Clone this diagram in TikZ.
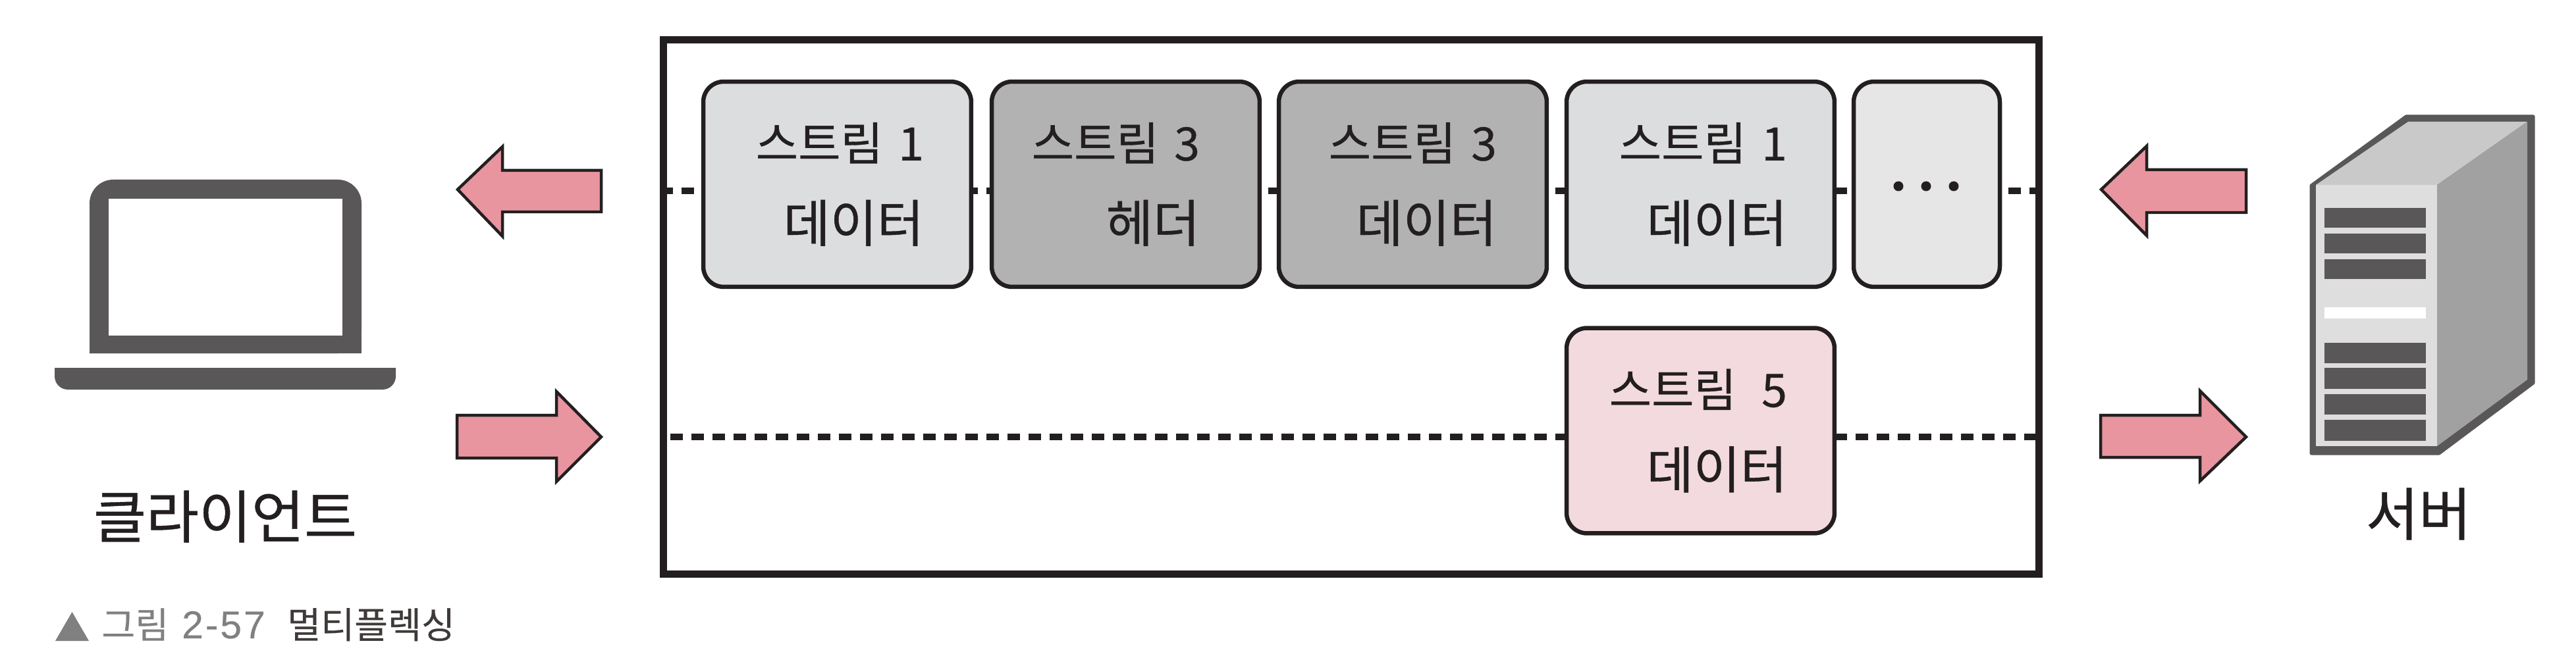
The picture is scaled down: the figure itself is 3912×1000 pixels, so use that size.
\documentclass[tikz,border=0pt]{standalone}
\usepackage{fontspec}
\setmainfont{Noto Sans CJK KR}
\newfontfamily\handfont[FakeBold=0.5]{Noto Sans CJK KR}
\newfontfamily\capfont[FakeBold=0.25]{Noto Sans CJK KR}
\newfontfamily\capdigits[LetterSpace=5,FakeBold=0.25]{Liberation Sans}
\definecolor{ink}{HTML}{231F20}
\definecolor{devgray}{HTML}{595757}
\definecolor{arrowpink}{HTML}{E8959F}
\definecolor{lightbox}{HTML}{DCDDDE}
\definecolor{midbox}{HTML}{B2B2B2}
\definecolor{paleb}{HTML}{E6E6E6}
\definecolor{pinkbox}{HTML}{F3DADE}
\definecolor{capgray}{HTML}{808080}
\definecolor{capdark}{HTML}{3E3A39}
\newcommand{\twolines}[3]{#1\hspace*{#3}\mbox{}\\{\fontsize{44}{70.6}\selectfont #2}\hspace*{#3}\mbox{}}
\tikzset{
  streambox/.style={draw=ink,line width=0.13cm,rounded corners=0.62cm,outer sep=0pt,
    inner xsep=0.4cm,inner ysep=0pt,minimum height=6.24cm,align=right,text=ink,
    font=\handfont\fontsize{39.8}{70.6}\selectfont},
  dashrow/.style={draw=ink,line width=0.21cm,dash pattern=on 0.38cm off 0.26cm},
  blockarrow/.style={draw=ink,line width=0.09cm,fill=arrowpink,line join=miter},
  hand/.style={text=ink,inner sep=0pt,font=\handfont\fontsize{49.5}{56}\selectfont},
  bar/.style={fill=devgray},
}
\begin{document}
\begin{tikzpicture}[x=0.02cm,y=-0.02cm]
\useasboundingbox (0,0) rectangle (3912,1000);
\fill[white] (0,0) rectangle (3912,1000);

% frame
\node[draw=ink,line width=0.22cm,minimum width=41.8cm,minimum height=16.26cm,outer sep=0pt,inner sep=0pt] (frame) at (2052,466.5) {};

% stream boxes
\node[streambox,fill=lightbox,text width=7.34cm] (b1) at (1271.5,280) {\twolines{스트림 1}{데이터}{1.04cm}};
\node[streambox,fill=midbox,text width=7.34cm] (b2) at (1709.5,280) {\twolines{스트림 3}{헤더}{1.42cm}};
\node[streambox,fill=midbox,text width=7.34cm] (b3) at (2145.5,280) {\twolines{스트림 3}{데이터}{1.12cm}};
\node[streambox,fill=lightbox,text width=7.34cm] (b4) at (2582.5,280) {\twolines{스트림 1}{데이터}{1.04cm}};
\node[streambox,fill=paleb,text width=3.64cm] (b5) at (2926,280) {};
\node[streambox,fill=pinkbox,text width=7.34cm] (b6) at (2582.5,654.5) {\twolines{스트림\hspace{0.3cm} 5}{데이터}{1.04cm}};

% dots of the last box
\fill[ink] (2883,283) circle (7.5) (2925,283) circle (7.5) (2967,283) circle (7.5);

% connector coordinates on the frame
\coordinate (fl1) at (1007,290);
\coordinate (fr1) at (3097,290);
\coordinate (fl2) at (1007,664);
\coordinate (fr2) at (3097,664);
\coordinate (b1w) at (b1.west |- fl1);
\coordinate (b1e) at (b1.east |- fl1);
\coordinate (b2w) at (b2.west |- fl1);
\coordinate (b2e) at (b2.east |- fl1);
\coordinate (b3w) at (b3.west |- fl1);
\coordinate (b3e) at (b3.east |- fl1);
\coordinate (b4w) at (b4.west |- fl1);
\coordinate (b4e) at (b4.east |- fl1);
\coordinate (b5w) at (b5.west |- fl1);
\coordinate (b5e) at (b5.east |- fl1);
\coordinate (b6w) at (b6.west |- fl2);
\coordinate (b6e) at (b6.east |- fl2);

\draw[dashrow,dash phase=0.08cm] (fl1) -- (b1w);
\draw[dashrow,dash phase=0.18cm] (b1e) -- (b2w);
\draw[dashrow,dash phase=0.38cm] (b2e) -- (b3w);
\draw[dashrow,dash phase=0.38cm] (b3e) -- (b4w);
\draw[dashrow] (b4e) -- (b5w);
\draw[dashrow,dash phase=0.38cm] (b5e) -- (fr1);
\draw[dashrow,dash phase=0.42cm] (fl2) -- (b6w);
\draw[dashrow] (b6e) -- (fr2);

% block arrows
\draw[blockarrow] (695,288) -- (763,223) -- (763,259) -- (913,259) -- (913,322) -- (763,322) -- (763,359) -- cycle;
\draw[blockarrow] (694,631) -- (845,631) -- (845,595) -- (913,664) -- (845,732) -- (845,696) -- (694,696) -- cycle;
\draw[blockarrow] (3191,288) -- (3260,222) -- (3260,258) -- (3411,258) -- (3411,323) -- (3260,323) -- (3260,358) -- cycle;
\draw[blockarrow] (3190,631) -- (3341,631) -- (3341,594) -- (3411,664) -- (3341,731) -- (3341,695) -- (3190,695) -- cycle;

% laptop
\fill[devgray,rounded corners=0.72cm] (136,537) -- (136,273) -- (549,273) -- (549,537) [sharp corners] -- cycle;
\fill[devgray] (136,500) rectangle (549,537);
\fill[white] (165,302) rectangle (520,510);
\fill[devgray] (83,559) -- (601,559) -- (601,572) arc[start angle=0,end angle=90,radius=20] -- (103,592) arc[start angle=90,end angle=180,radius=20] -- cycle;
\node[hand] (client) at (342,785) {클라이언트};

% server
\fill[devgray,draw=devgray,line width=0.1cm,line join=round] (3510,282) -- (3654,177) -- (3847,177) -- (3847,582) -- (3704,689) -- (3510,689) -- cycle;
\fill[fill=black!21] (3517,281) -- (3657,185) -- (3838,185) -- (3701,281) -- cycle;
\fill[fill=black!37] (3701,281) -- (3838,185) -- (3838,577) -- (3701,678) -- cycle;
\fill[fill=black!13] (3517,281) rectangle (3701,678);
\fill[bar] (3530,316) rectangle (3684,346);
\fill[bar] (3530,355) rectangle (3684,385);
\fill[bar] (3530,394) rectangle (3684,424);
\fill[white] (3530,467) rectangle (3684,484);
\fill[bar] (3530,521) rectangle (3684,552);
\fill[bar] (3530,559) rectangle (3684,591);
\fill[bar] (3530,599) rectangle (3684,630);
\fill[bar] (3530,638) rectangle (3684,670);
\node[hand] (server) at (3673,781) {서버};

% caption
\fill[capgray] (84,974) -- (135,974) -- (109.5,930) -- cycle;
\node[anchor=base west,inner sep=0pt,text=capgray,font=\capfont\fontsize{31.5}{36}\selectfont] (capa) at (154,970) {그림\hspace{0.4cm}{\capdigits\fontsize{33.5}{36}\selectfont 2-57}};
\node[anchor=base west,inner sep=0pt,text=capdark,font=\capfont\fontsize{31.5}{36}\selectfont] (capb) at (436,970) {멀티플렉싱};
\end{tikzpicture}
\end{document}
